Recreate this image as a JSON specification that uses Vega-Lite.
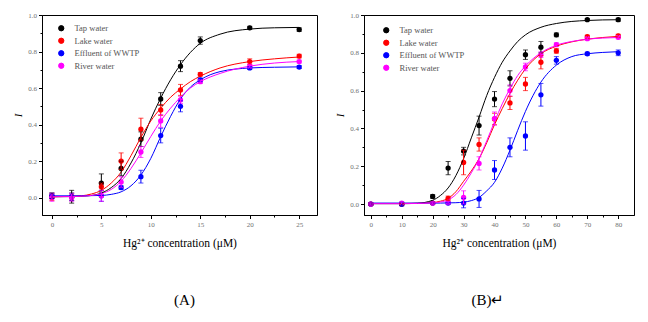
{
  "$schema": "https://vega.github.io/schema/vega-lite/v6.json",
  "background": "white",
  "padding": {"left": 12, "top": 10, "right": 5, "bottom": 0},
  "bounds": "flush",
  "spacing": 47,
  "resolve": {"scale": {"x": "independent", "y": "independent"}, "legend": {"color": "independent"}},
  "config": {
    "view": {"stroke": "black", "strokeWidth": 1},
    "axis": {
      "grid": false,
      "domainColor": "black",
      "tickColor": "black",
      "labelColor": "#707070",
      "labelFont": "Liberation Serif",
      "labelFontSize": 7,
      "labelPadding": 2,
      "labelOverlap": false,
      "tickCount": 100,
      "titleFont": "Liberation Serif",
      "titleColor": "black",
      "titleFontWeight": "normal"
    },
    "legend": {
      "labelFont": "Liberation Serif",
      "labelFontSize": 8.5,
      "labelColor": "#555555",
      "symbolType": "circle",
      "symbolSize": 28,
      "symbolStrokeWidth": 1,
      "rowPadding": 2.5,
      "labelOffset": 9,
      "padding": 0,
      "title": null
    },
    "title": {"font": "Liberation Serif", "fontSize": 15, "fontWeight": "normal", "color": "black"}
  },
  "datasets": {
    "pointsA": [
      {"s": "Tap water", "x": 0, "y": 0.01, "e": 0.015},
      {"s": "Tap water", "x": 2, "y": 0.005, "e": 0.035},
      {"s": "Tap water", "x": 5, "y": 0.08, "e": 0.05},
      {"s": "Tap water", "x": 7, "y": 0.16, "e": 0.04},
      {"s": "Tap water", "x": 9, "y": 0.32, "e": 0.04},
      {"s": "Tap water", "x": 11, "y": 0.54, "e": 0.035},
      {"s": "Tap water", "x": 13, "y": 0.72, "e": 0.03},
      {"s": "Tap water", "x": 15, "y": 0.86, "e": 0.02},
      {"s": "Tap water", "x": 20, "y": 0.93, "e": 0.008},
      {"s": "Tap water", "x": 25, "y": 0.92, "e": 0.01},
      {"s": "Lake water", "x": 0, "y": 0.005, "e": 0.02},
      {"s": "Lake water", "x": 2, "y": 0.005, "e": 0.02},
      {"s": "Lake water", "x": 5, "y": 0.06, "e": 0.02},
      {"s": "Lake water", "x": 7, "y": 0.2, "e": 0.045},
      {"s": "Lake water", "x": 9, "y": 0.375, "e": 0.06},
      {"s": "Lake water", "x": 11, "y": 0.48, "e": 0.03},
      {"s": "Lake water", "x": 13, "y": 0.59, "e": 0.03},
      {"s": "Lake water", "x": 15, "y": 0.675, "e": 0.01},
      {"s": "Lake water", "x": 20, "y": 0.745, "e": 0.015},
      {"s": "Lake water", "x": 25, "y": 0.775, "e": 0.01},
      {"s": "Effluent of WWTP", "x": 0, "y": 0.01, "e": 0.015},
      {"s": "Effluent of WWTP", "x": 2, "y": 0.005, "e": 0.02},
      {"s": "Effluent of WWTP", "x": 5, "y": 0.01, "e": 0.03},
      {"s": "Effluent of WWTP", "x": 7, "y": 0.055, "e": 0.01},
      {"s": "Effluent of WWTP", "x": 9, "y": 0.115, "e": 0.035},
      {"s": "Effluent of WWTP", "x": 11, "y": 0.34, "e": 0.04},
      {"s": "Effluent of WWTP", "x": 13, "y": 0.5, "e": 0.03},
      {"s": "Effluent of WWTP", "x": 15, "y": 0.645, "e": 0.01},
      {"s": "Effluent of WWTP", "x": 20, "y": 0.71, "e": 0.008},
      {"s": "Effluent of WWTP", "x": 25, "y": 0.715, "e": 0.008},
      {"s": "River water", "x": 0, "y": 0.0, "e": 0.02},
      {"s": "River water", "x": 2, "y": 0.0, "e": 0.02},
      {"s": "River water", "x": 5, "y": 0.01, "e": 0.03},
      {"s": "River water", "x": 7, "y": 0.085, "e": 0.03},
      {"s": "River water", "x": 9, "y": 0.25, "e": 0.03},
      {"s": "River water", "x": 11, "y": 0.42, "e": 0.035},
      {"s": "River water", "x": 13, "y": 0.535, "e": 0.02},
      {"s": "River water", "x": 15, "y": 0.635, "e": 0.01},
      {"s": "River water", "x": 20, "y": 0.72, "e": 0.01},
      {"s": "River water", "x": 25, "y": 0.745, "e": 0.008}
    ],
    "curvesA": [
      {"s": "Tap water", "x": 0, "y": 0.005}, {"s": "Tap water", "x": 2, "y": 0.006}, {"s": "Tap water", "x": 3, "y": 0.008}, {"s": "Tap water", "x": 4, "y": 0.012}, {"s": "Tap water", "x": 5, "y": 0.025}, {"s": "Tap water", "x": 6, "y": 0.055}, {"s": "Tap water", "x": 7, "y": 0.105}, {"s": "Tap water", "x": 8, "y": 0.19}, {"s": "Tap water", "x": 9, "y": 0.3}, {"s": "Tap water", "x": 10, "y": 0.43}, {"s": "Tap water", "x": 11, "y": 0.545}, {"s": "Tap water", "x": 12, "y": 0.645}, {"s": "Tap water", "x": 13, "y": 0.728}, {"s": "Tap water", "x": 14, "y": 0.795}, {"s": "Tap water", "x": 15, "y": 0.845}, {"s": "Tap water", "x": 17, "y": 0.895}, {"s": "Tap water", "x": 20, "y": 0.923}, {"s": "Tap water", "x": 22.5, "y": 0.93}, {"s": "Tap water", "x": 25, "y": 0.932},
      {"s": "Lake water", "x": 0, "y": 0.005}, {"s": "Lake water", "x": 2, "y": 0.007}, {"s": "Lake water", "x": 3, "y": 0.01}, {"s": "Lake water", "x": 4, "y": 0.02}, {"s": "Lake water", "x": 5, "y": 0.04}, {"s": "Lake water", "x": 6, "y": 0.08}, {"s": "Lake water", "x": 7, "y": 0.14}, {"s": "Lake water", "x": 8, "y": 0.23}, {"s": "Lake water", "x": 9, "y": 0.33}, {"s": "Lake water", "x": 10, "y": 0.42}, {"s": "Lake water", "x": 11, "y": 0.49}, {"s": "Lake water", "x": 12, "y": 0.55}, {"s": "Lake water", "x": 13, "y": 0.595}, {"s": "Lake water", "x": 14, "y": 0.635}, {"s": "Lake water", "x": 15, "y": 0.665}, {"s": "Lake water", "x": 17, "y": 0.71}, {"s": "Lake water", "x": 20, "y": 0.745}, {"s": "Lake water", "x": 22.5, "y": 0.76}, {"s": "Lake water", "x": 25, "y": 0.77},
      {"s": "Effluent of WWTP", "x": 0, "y": 0.01}, {"s": "Effluent of WWTP", "x": 2, "y": 0.01}, {"s": "Effluent of WWTP", "x": 3, "y": 0.01}, {"s": "Effluent of WWTP", "x": 4, "y": 0.011}, {"s": "Effluent of WWTP", "x": 5, "y": 0.012}, {"s": "Effluent of WWTP", "x": 6, "y": 0.018}, {"s": "Effluent of WWTP", "x": 7, "y": 0.032}, {"s": "Effluent of WWTP", "x": 8, "y": 0.065}, {"s": "Effluent of WWTP", "x": 9, "y": 0.124}, {"s": "Effluent of WWTP", "x": 10, "y": 0.215}, {"s": "Effluent of WWTP", "x": 11, "y": 0.334}, {"s": "Effluent of WWTP", "x": 12, "y": 0.445}, {"s": "Effluent of WWTP", "x": 13, "y": 0.54}, {"s": "Effluent of WWTP", "x": 14, "y": 0.605}, {"s": "Effluent of WWTP", "x": 15, "y": 0.645}, {"s": "Effluent of WWTP", "x": 17, "y": 0.69}, {"s": "Effluent of WWTP", "x": 20, "y": 0.71}, {"s": "Effluent of WWTP", "x": 22.5, "y": 0.714}, {"s": "Effluent of WWTP", "x": 25, "y": 0.716},
      {"s": "River water", "x": 0, "y": 0.005}, {"s": "River water", "x": 2, "y": 0.006}, {"s": "River water", "x": 3, "y": 0.008}, {"s": "River water", "x": 4, "y": 0.012}, {"s": "River water", "x": 5, "y": 0.022}, {"s": "River water", "x": 6, "y": 0.045}, {"s": "River water", "x": 7, "y": 0.09}, {"s": "River water", "x": 8, "y": 0.16}, {"s": "River water", "x": 9, "y": 0.245}, {"s": "River water", "x": 10, "y": 0.335}, {"s": "River water", "x": 11, "y": 0.42}, {"s": "River water", "x": 12, "y": 0.49}, {"s": "River water", "x": 13, "y": 0.55}, {"s": "River water", "x": 14, "y": 0.6}, {"s": "River water", "x": 15, "y": 0.635}, {"s": "River water", "x": 17, "y": 0.68}, {"s": "River water", "x": 20, "y": 0.72}, {"s": "River water", "x": 22.5, "y": 0.737}, {"s": "River water", "x": 25, "y": 0.745}
    ],
    "pointsB": [
      {"s": "Tap water", "x": 0, "y": 0.0, "e": 0.005},
      {"s": "Tap water", "x": 10, "y": 0.0, "e": 0.005},
      {"s": "Tap water", "x": 20, "y": 0.04, "e": 0.01},
      {"s": "Tap water", "x": 25, "y": 0.19, "e": 0.035},
      {"s": "Tap water", "x": 30, "y": 0.28, "e": 0.02},
      {"s": "Tap water", "x": 35, "y": 0.415, "e": 0.05},
      {"s": "Tap water", "x": 40, "y": 0.555, "e": 0.04},
      {"s": "Tap water", "x": 45, "y": 0.665, "e": 0.04},
      {"s": "Tap water", "x": 50, "y": 0.79, "e": 0.025},
      {"s": "Tap water", "x": 55, "y": 0.83, "e": 0.03},
      {"s": "Tap water", "x": 60, "y": 0.895, "e": 0.01},
      {"s": "Tap water", "x": 70, "y": 0.975, "e": 0.005},
      {"s": "Tap water", "x": 80, "y": 0.975, "e": 0.008},
      {"s": "Lake water", "x": 0, "y": 0.0, "e": 0.005},
      {"s": "Lake water", "x": 10, "y": 0.0, "e": 0.005},
      {"s": "Lake water", "x": 20, "y": 0.005, "e": 0.005},
      {"s": "Lake water", "x": 25, "y": 0.03, "e": 0.012},
      {"s": "Lake water", "x": 30, "y": 0.22, "e": 0.065},
      {"s": "Lake water", "x": 35, "y": 0.315, "e": 0.035},
      {"s": "Lake water", "x": 40, "y": 0.45, "e": 0.03},
      {"s": "Lake water", "x": 45, "y": 0.535, "e": 0.035},
      {"s": "Lake water", "x": 50, "y": 0.635, "e": 0.035},
      {"s": "Lake water", "x": 55, "y": 0.75, "e": 0.035},
      {"s": "Lake water", "x": 60, "y": 0.81, "e": 0.012},
      {"s": "Lake water", "x": 70, "y": 0.885, "e": 0.008},
      {"s": "Lake water", "x": 80, "y": 0.89, "e": 0.008},
      {"s": "Effluent of WWTP", "x": 0, "y": 0.0, "e": 0.005},
      {"s": "Effluent of WWTP", "x": 10, "y": 0.0, "e": 0.01},
      {"s": "Effluent of WWTP", "x": 20, "y": 0.005, "e": 0.005},
      {"s": "Effluent of WWTP", "x": 25, "y": 0.005, "e": 0.005},
      {"s": "Effluent of WWTP", "x": 30, "y": 0.005, "e": 0.025},
      {"s": "Effluent of WWTP", "x": 35, "y": 0.027, "e": 0.045},
      {"s": "Effluent of WWTP", "x": 40, "y": 0.18, "e": 0.05},
      {"s": "Effluent of WWTP", "x": 45, "y": 0.3, "e": 0.05},
      {"s": "Effluent of WWTP", "x": 50, "y": 0.36, "e": 0.075},
      {"s": "Effluent of WWTP", "x": 55, "y": 0.578, "e": 0.06},
      {"s": "Effluent of WWTP", "x": 60, "y": 0.76, "e": 0.02},
      {"s": "Effluent of WWTP", "x": 70, "y": 0.795, "e": 0.008},
      {"s": "Effluent of WWTP", "x": 80, "y": 0.8, "e": 0.015},
      {"s": "River water", "x": 0, "y": 0.0, "e": 0.005},
      {"s": "River water", "x": 10, "y": 0.005, "e": 0.005},
      {"s": "River water", "x": 20, "y": 0.005, "e": 0.005},
      {"s": "River water", "x": 25, "y": 0.007, "e": 0.005},
      {"s": "River water", "x": 30, "y": 0.035, "e": 0.035},
      {"s": "River water", "x": 35, "y": 0.215, "e": 0.035},
      {"s": "River water", "x": 40, "y": 0.452, "e": 0.035},
      {"s": "River water", "x": 45, "y": 0.6, "e": 0.03},
      {"s": "River water", "x": 50, "y": 0.725, "e": 0.02},
      {"s": "River water", "x": 55, "y": 0.79, "e": 0.015},
      {"s": "River water", "x": 60, "y": 0.843, "e": 0.01},
      {"s": "River water", "x": 70, "y": 0.875, "e": 0.008},
      {"s": "River water", "x": 80, "y": 0.882, "e": 0.008}
    ],
    "curvesB": [
      {"s": "Tap water", "x": 0, "y": 0.002}, {"s": "Tap water", "x": 10, "y": 0.002}, {"s": "Tap water", "x": 15, "y": 0.004}, {"s": "Tap water", "x": 20, "y": 0.02}, {"s": "Tap water", "x": 22.5, "y": 0.045}, {"s": "Tap water", "x": 25, "y": 0.085}, {"s": "Tap water", "x": 27.5, "y": 0.15}, {"s": "Tap water", "x": 30, "y": 0.24}, {"s": "Tap water", "x": 32.5, "y": 0.35}, {"s": "Tap water", "x": 35, "y": 0.46}, {"s": "Tap water", "x": 37.5, "y": 0.575}, {"s": "Tap water", "x": 40, "y": 0.67}, {"s": "Tap water", "x": 42.5, "y": 0.75}, {"s": "Tap water", "x": 45, "y": 0.81}, {"s": "Tap water", "x": 47.5, "y": 0.86}, {"s": "Tap water", "x": 50, "y": 0.895}, {"s": "Tap water", "x": 55, "y": 0.935}, {"s": "Tap water", "x": 60, "y": 0.955}, {"s": "Tap water", "x": 65, "y": 0.966}, {"s": "Tap water", "x": 70, "y": 0.971}, {"s": "Tap water", "x": 75, "y": 0.974}, {"s": "Tap water", "x": 80, "y": 0.975},
      {"s": "Lake water", "x": 0, "y": 0.003}, {"s": "Lake water", "x": 10, "y": 0.003}, {"s": "Lake water", "x": 15, "y": 0.004}, {"s": "Lake water", "x": 20, "y": 0.008}, {"s": "Lake water", "x": 22.5, "y": 0.015}, {"s": "Lake water", "x": 25, "y": 0.03}, {"s": "Lake water", "x": 27.5, "y": 0.065}, {"s": "Lake water", "x": 30, "y": 0.12}, {"s": "Lake water", "x": 32.5, "y": 0.175}, {"s": "Lake water", "x": 35, "y": 0.24}, {"s": "Lake water", "x": 37.5, "y": 0.325}, {"s": "Lake water", "x": 40, "y": 0.42}, {"s": "Lake water", "x": 42.5, "y": 0.505}, {"s": "Lake water", "x": 45, "y": 0.585}, {"s": "Lake water", "x": 47.5, "y": 0.655}, {"s": "Lake water", "x": 50, "y": 0.715}, {"s": "Lake water", "x": 55, "y": 0.795}, {"s": "Lake water", "x": 60, "y": 0.835}, {"s": "Lake water", "x": 65, "y": 0.858}, {"s": "Lake water", "x": 70, "y": 0.872}, {"s": "Lake water", "x": 75, "y": 0.881}, {"s": "Lake water", "x": 80, "y": 0.887},
      {"s": "Effluent of WWTP", "x": 0, "y": 0.005}, {"s": "Effluent of WWTP", "x": 10, "y": 0.005}, {"s": "Effluent of WWTP", "x": 15, "y": 0.005}, {"s": "Effluent of WWTP", "x": 20, "y": 0.005}, {"s": "Effluent of WWTP", "x": 22.5, "y": 0.005}, {"s": "Effluent of WWTP", "x": 25, "y": 0.006}, {"s": "Effluent of WWTP", "x": 27.5, "y": 0.007}, {"s": "Effluent of WWTP", "x": 30, "y": 0.01}, {"s": "Effluent of WWTP", "x": 32.5, "y": 0.018}, {"s": "Effluent of WWTP", "x": 35, "y": 0.035}, {"s": "Effluent of WWTP", "x": 37.5, "y": 0.07}, {"s": "Effluent of WWTP", "x": 40, "y": 0.115}, {"s": "Effluent of WWTP", "x": 42.5, "y": 0.19}, {"s": "Effluent of WWTP", "x": 45, "y": 0.285}, {"s": "Effluent of WWTP", "x": 47.5, "y": 0.39}, {"s": "Effluent of WWTP", "x": 50, "y": 0.49}, {"s": "Effluent of WWTP", "x": 55, "y": 0.645}, {"s": "Effluent of WWTP", "x": 60, "y": 0.735}, {"s": "Effluent of WWTP", "x": 65, "y": 0.78}, {"s": "Effluent of WWTP", "x": 70, "y": 0.795}, {"s": "Effluent of WWTP", "x": 75, "y": 0.802}, {"s": "Effluent of WWTP", "x": 80, "y": 0.806},
      {"s": "River water", "x": 0, "y": 0.002}, {"s": "River water", "x": 10, "y": 0.002}, {"s": "River water", "x": 15, "y": 0.003}, {"s": "River water", "x": 20, "y": 0.006}, {"s": "River water", "x": 22.5, "y": 0.011}, {"s": "River water", "x": 25, "y": 0.022}, {"s": "River water", "x": 27.5, "y": 0.05}, {"s": "River water", "x": 30, "y": 0.1}, {"s": "River water", "x": 32.5, "y": 0.165}, {"s": "River water", "x": 35, "y": 0.24}, {"s": "River water", "x": 37.5, "y": 0.335}, {"s": "River water", "x": 40, "y": 0.435}, {"s": "River water", "x": 42.5, "y": 0.53}, {"s": "River water", "x": 45, "y": 0.61}, {"s": "River water", "x": 47.5, "y": 0.68}, {"s": "River water", "x": 50, "y": 0.73}, {"s": "River water", "x": 55, "y": 0.8}, {"s": "River water", "x": 60, "y": 0.84}, {"s": "River water", "x": 65, "y": 0.86}, {"s": "River water", "x": 70, "y": 0.872}, {"s": "River water", "x": 75, "y": 0.878}, {"s": "River water", "x": 80, "y": 0.881}
    ]
  },
  "hconcat": [
    {
      "width": 275,
      "height": 200,
      "title": {"text": "(A)", "orient": "bottom", "anchor": "middle", "offset": 44, "dx": 5},
      "layer": [
        {
          "data": {"name": "pointsA"},
          "mark": {"type": "point", "shape": "circle", "filled": true, "size": 28, "opacity": 1, "strokeWidth": 1},
          "encoding": {
            "x": {"field": "x", "type": "quantitative", "title": "Hg²⁺ concentration (μM)", "scale": {"domain": [-1, 26.8], "nice": false, "zero": false},
              "axis": {"titleFontSize": 11.5, "titlePadding": 10, "labelOverlap": false, "tickCount": 100,
                "values": [0, 2.5, 5, 7.5, 10, 12.5, 15, 17.5, 20, 22.5, 25],
                "labelExpr": "datum.value % 5 === 0 ? format(datum.value, 'd') : ''",
                "tickSize": {"condition": {"test": "datum.value % 5 !== 0", "value": 2}, "value": 3.5}}},
            "y": {"field": "y", "type": "quantitative", "title": "I", "scale": {"domain": [-0.095, 1.0], "nice": false, "zero": false},
              "axis": {"titleFontStyle": "italic", "titleFontSize": 11, "titlePadding": 4, "labelOverlap": false, "tickCount": 100,
                "values": [0, 0.1, 0.2, 0.3, 0.4, 0.5, 0.6, 0.7, 0.8, 0.9, 1.0],
                "labelExpr": "round(datum.value * 10) % 2 === 0 ? format(datum.value, '.1f') : ''",
                "tickSize": {"condition": {"test": "round(datum.value * 10) % 2 === 1", "value": 2}, "value": 3.5}}},
            "color": {"field": "s", "type": "nominal",
              "scale": {"domain": ["Tap water", "Lake water", "Effluent of WWTP", "River water"], "range": ["#000000", "#ff0000", "#0000ff", "#ff00ff"]},
              "legend": {"orient": "none", "legendX": 15, "legendY": 9}}
          }
        },
        {
          "data": {"name": "curvesA"},
          "mark": {"type": "line", "strokeWidth": 1, "interpolate": "monotone", "clip": true},
          "encoding": {
            "x": {"field": "x", "type": "quantitative", "title": "Hg²⁺ concentration (μM)"},
            "y": {"field": "y", "type": "quantitative", "title": "I"},
            "color": {"field": "s", "type": "nominal"}
          }
        },
        {
          "data": {"name": "pointsA"},
          "mark": {"type": "errorbar", "ticks": {"size": 5}, "thickness": 1},
          "encoding": {
            "x": {"field": "x", "type": "quantitative", "title": "Hg²⁺ concentration (μM)"},
            "y": {"field": "y", "type": "quantitative", "title": "I"},
            "yError": {"field": "e"},
            "color": {"field": "s", "type": "nominal"}
          }
        }
      ]
    },
    {
      "width": 270,
      "height": 200,
      "title": {"text": "(B)↵", "orient": "bottom", "anchor": "middle", "offset": 44, "dx": -11},
      "layer": [
        {
          "data": {"name": "pointsB"},
          "mark": {"type": "point", "shape": "circle", "filled": true, "size": 28, "opacity": 1, "strokeWidth": 1},
          "encoding": {
            "x": {"field": "x", "type": "quantitative", "title": "Hg²⁺ concentration (μM)", "scale": {"domain": [-2.2, 85.1], "nice": false, "zero": false},
              "axis": {"titleFontSize": 11.5, "titlePadding": 10, "labelOverlap": false, "tickCount": 100,
                "values": [0, 5, 10, 15, 20, 25, 30, 35, 40, 45, 50, 55, 60, 65, 70, 75, 80],
                "labelExpr": "datum.value % 10 === 0 ? format(datum.value, 'd') : ''",
                "tickSize": {"condition": {"test": "datum.value % 10 !== 0", "value": 2}, "value": 3.5}}},
            "y": {"field": "y", "type": "quantitative", "title": "I", "scale": {"domain": [-0.058, 1.0], "nice": false, "zero": false},
              "axis": {"titleFontStyle": "italic", "titleFontSize": 11, "titlePadding": 4, "labelOverlap": false, "tickCount": 100,
                "values": [0, 0.1, 0.2, 0.3, 0.4, 0.5, 0.6, 0.7, 0.8, 0.9, 1.0],
                "labelExpr": "round(datum.value * 10) % 2 === 0 ? format(datum.value, '.1f') : ''",
                "tickSize": {"condition": {"test": "round(datum.value * 10) % 2 === 1", "value": 2}, "value": 3.5}}},
            "color": {"field": "s", "type": "nominal",
              "scale": {"domain": ["Tap water", "Lake water", "Effluent of WWTP", "River water"], "range": ["#000000", "#ff0000", "#0000ff", "#ff00ff"]},
              "legend": {"orient": "none", "legendX": 18, "legendY": 11}}
          }
        },
        {
          "data": {"name": "curvesB"},
          "mark": {"type": "line", "strokeWidth": 1, "interpolate": "monotone", "clip": true},
          "encoding": {
            "x": {"field": "x", "type": "quantitative", "title": "Hg²⁺ concentration (μM)"},
            "y": {"field": "y", "type": "quantitative", "title": "I"},
            "color": {"field": "s", "type": "nominal"}
          }
        },
        {
          "data": {"name": "pointsB"},
          "mark": {"type": "errorbar", "ticks": {"size": 5}, "thickness": 1},
          "encoding": {
            "x": {"field": "x", "type": "quantitative", "title": "Hg²⁺ concentration (μM)"},
            "y": {"field": "y", "type": "quantitative", "title": "I"},
            "yError": {"field": "e"},
            "color": {"field": "s", "type": "nominal"}
          }
        }
      ]
    }
  ]
}
